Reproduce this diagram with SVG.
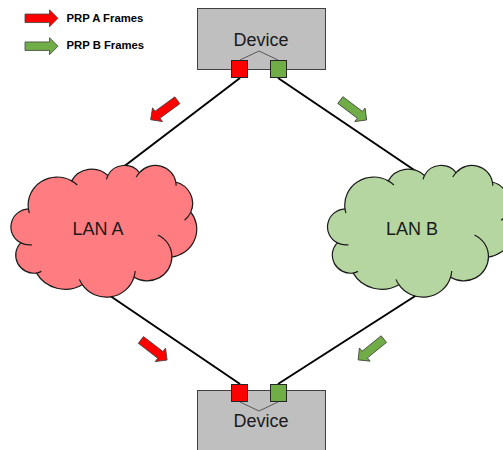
<svg xmlns="http://www.w3.org/2000/svg" xmlns:xlink="http://www.w3.org/1999/xlink" width="503" height="450" viewBox="0 0 503 450">
<style>
  .conn { stroke: #000000; stroke-width: 2; fill: none; }
  .box { fill: #BFBFBF; stroke: #404040; stroke-width: 1; }
  .inner { fill: none; stroke: #595959; stroke-width: 1; }
  .portA { fill: #FF0000; stroke: #262626; stroke-width: 1; }
  .portB { fill: #70AD47; stroke: #262626; stroke-width: 1; }
  .cloud { stroke: #1A1A1A; stroke-width: 1.2; }
  .hook { fill: none; stroke: #1A1A1A; stroke-width: 1.2; }
  .arrA { fill: #FF0000; stroke: #404040; stroke-width: 0.8; }
  .arrB { fill: #70AD47; stroke: #404040; stroke-width: 0.8; }
  .lbl { font-family: "Liberation Sans", Arial, sans-serif; font-size: 18px; fill: #1A1A1A; text-anchor: middle; }
  .leg { font-family: "Liberation Sans", Arial, sans-serif; font-size: 11.3px; font-weight: bold; fill: #000000; }
</style>
<defs>
  <path id="blk" d="M-16.5,-4.25 H8 V-8.5 L16.5,0 L8,8.5 V4.25 H-16.5 Z"/>
  <path id="cloudShape" vector-effect="non-scaling-stroke" d="M3900,14370 A6753,9190 0 0 1 14004,5202 A5333,7267 0 0 1 22455,3431 A4365,5945 0 0 1 29833,2480 A4857,6595 0 0 1 38318,5575 A5333,7273 0 0 1 41818,15459 A6775,9220 0 0 1 37404,30201 A5785,7867 0 0 1 28555,36812 A6752,9215 0 0 1 16480,39263 A7720,10543 0 0 1 5804,35470 A4360,5918 0 0 1 2112,25549 A4345,5945 0 0 1 3900,14370 Z"/>
  <path id="cloudHooks" vector-effect="non-scaling-stroke" d="M4693,26177 A4345,5945 0 0 1 2112,25549 M6928,34899 A4360,5918 0 0 1 5804,35470 M16480,39263 A6752,9215 0 0 1 15812,37522 M28827,34751 A6752,9215 0 0 1 28555,36812 M34129,22954 A5785,7867 0 0 1 37404,30201 M41818,15459 A5333,7273 0 0 1 40371,18134 M38318,5575 A4857,6595 0 0 1 38394,6839 M29078,3952 A4857,6595 0 0 1 29833,2480 M22141,4720 A4365,5945 0 0 1 22455,3431 M14004,5202 A6753,9190 0 0 1 15305,6551 M4127,15789 A6753,9190 0 0 1 3900,14370"/>
</defs>

<g id="connectors">
  <line class="conn" x1="240" y1="78" x2="118" y2="171"/>
  <line class="conn" x1="278" y1="78" x2="426" y2="178"/>
  <line class="conn" x1="240" y1="384" x2="100" y2="289"/>
  <line class="conn" x1="278" y1="384" x2="423" y2="291"/>
</g>

<g id="legend">
  <use xlink:href="#blk" class="arrA" transform="translate(41.5,18.3)"/>
  <text class="leg" x="66.5" y="21.7">PRP A Frames</text>
  <use xlink:href="#blk" class="arrB" transform="translate(41.5,46.2)"/>
  <text class="leg" x="66.5" y="49.3">PRP B Frames</text>
</g>

<g id="lanA">
  <g transform="translate(11.7,165) scale(0.0042824,0.0030486)">
    <use xlink:href="#cloudShape" class="cloud" fill="#FF7C80"/>
    <use xlink:href="#cloudHooks" class="hook"/>
  </g>
  <text class="lbl" x="98" y="235">LAN A</text>
</g>

<g id="lanB">
  <g transform="translate(328.3,165) scale(0.0042824,0.0030486)">
    <use xlink:href="#cloudShape" class="cloud" fill="#B5D6A0"/>
    <use xlink:href="#cloudHooks" class="hook"/>
  </g>
  <text class="lbl" x="412" y="235">LAN B</text>
</g>

<g id="deviceTop">
  <rect class="box" x="197.5" y="8.5" width="128" height="61"/>
  <text class="lbl" x="261" y="46">Device</text>
  <polyline class="inner" points="240,60 259,51 278,60"/>
  <rect class="portA" x="231.5" y="60.5" width="16" height="17"/>
  <rect class="portB" x="270.5" y="60.5" width="16" height="17"/>
</g>

<g id="deviceBottom">
  <rect class="box" x="197.5" y="390.5" width="128" height="70"/>
  <polyline class="inner" points="240,402 259,411 278,402"/>
  <text class="lbl" x="261" y="427">Device</text>
  <rect class="portA" x="231.5" y="384.5" width="16" height="17"/>
  <rect class="portB" x="270.5" y="384.5" width="16" height="17"/>
</g>

<g id="flowArrows">
  <use xlink:href="#blk" class="arrA" transform="translate(164,110) rotate(144)"/>
  <use xlink:href="#blk" class="arrB" transform="translate(353.5,110) rotate(37)"/>
  <use xlink:href="#blk" class="arrA" transform="translate(154,350) rotate(37.5)"/>
  <use xlink:href="#blk" class="arrB" transform="translate(371,349.5) rotate(141)"/>
</g>
</svg>
